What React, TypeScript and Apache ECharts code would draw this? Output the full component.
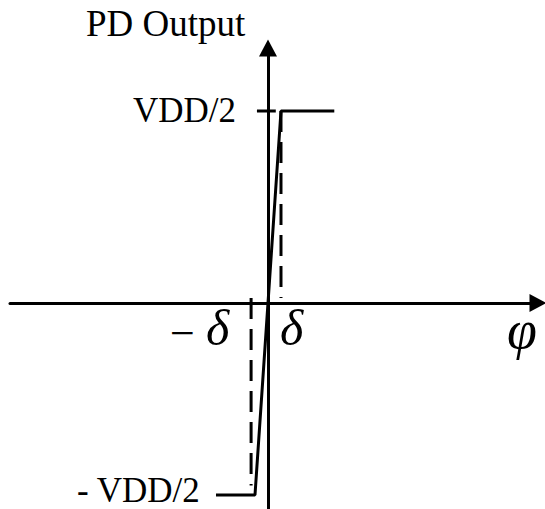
import React, { useEffect, useRef } from "react";
import * as echarts from "echarts";

// Phase-detector transfer characteristic, in units of δ (x) and VDD/2 (y)
const transferPhase = [-4.0, -1.0, 1.0, 5.1];
const transferOutput = [-1, -1, 1, 1];

// Dashed guides at +δ and −δ
const deltaPlus = 1.0;
const deltaMinus = -1.3;
const plusGuideOutput = [1, 0.026];
const minusGuideOutput = [0.026, -0.95];

// Short tick marking the VDD/2 level on the output axis
const levelTickPhase = [-0.85, 0.6];
const levelTickOutput = 1;

// Axis extents
const phaseRange = [-19.846, 20.77];
const outputRange = [-1.073, 1.328];

const serif = "'Liberation Serif', 'Times New Roman', serif";

export default function App() {
  const ref = useRef<HTMLDivElement>(null);

  useEffect(() => {
    if (!ref.current) return;
    const chart = echarts.init(ref.current, null, { renderer: "svg" });

    const axisCommon = {
      type: "value" as const,
      axisLabel: { show: false },
      axisTick: { show: false },
      splitLine: { show: false },
      axisLine: {
        show: true,
        onZero: true,
        symbol: ["none", "triangle"],
        symbolSize: [18, 17],
        lineStyle: { color: "#000", width: 3 },
      },
    };

    const dashed = { color: "#000", width: 3, type: [21, 10] };

    chart.setOption({
      animation: false,
      backgroundColor: "#fff",
      grid: { left: 10, right: 7, top: 48, bottom: 0 },
      xAxis: { ...axisCommon, min: phaseRange[0], max: phaseRange[1] },
      yAxis: { ...axisCommon, min: outputRange[0], max: outputRange[1] },
      series: [
        {
          type: "line",
          data: transferPhase.map((p, i) => [p, transferOutput[i]]),
          showSymbol: false,
          lineStyle: { color: "#000", width: 3 },
        },
        {
          type: "line",
          data: plusGuideOutput.map((v) => [deltaPlus, v]),
          showSymbol: false,
          lineStyle: dashed,
        },
        {
          type: "line",
          data: minusGuideOutput.map((v) => [deltaMinus, v]),
          showSymbol: false,
          lineStyle: dashed,
        },
        {
          type: "line",
          data: levelTickPhase.map((p) => [p, levelTickOutput]),
          showSymbol: false,
          lineStyle: { color: "#000", width: 3 },
        },
      ],
      graphic: [
        {
          type: "text",
          x: 86,
          y: 23,
          style: {
            text: "PD Output",
            font: `37px ${serif}`,
            fill: "#000",
            verticalAlign: "middle",
          },
        },
        {
          type: "text",
          x: 236,
          y: 110,
          style: {
            text: "VDD/2",
            font: `35px ${serif}`,
            fill: "#000",
            align: "right",
            verticalAlign: "middle",
          },
        },
        {
          type: "text",
          x: 77,
          y: 490,
          style: {
            text: "- VDD/2",
            font: `35px ${serif}`,
            fill: "#000",
            verticalAlign: "middle",
          },
        },
        {
          type: "text",
          x: 170,
          y: 333,
          style: {
            text: "−",
            font: `44px ${serif}`,
            fill: "#000",
            verticalAlign: "middle",
          },
        },
        {
          type: "text",
          x: 206,
          y: 328,
          style: {
            text: "δ",
            font: `italic 50px ${serif}`,
            fill: "#000",
            verticalAlign: "middle",
          },
        },
        {
          type: "text",
          x: 280,
          y: 328,
          style: {
            text: "δ",
            font: `italic 50px ${serif}`,
            fill: "#000",
            verticalAlign: "middle",
          },
        },
        {
          type: "text",
          x: 507,
          y: 330,
          style: {
            text: "φ",
            font: `italic 54px ${serif}`,
            fill: "#000",
            verticalAlign: "middle",
          },
        },
      ],
    });

    return () => chart.dispose();
  }, []);

  return (
    <div
      ref={ref}
      style={{
        position: "fixed",
        left: 0,
        top: 0,
        width: 545,
        height: 509,
        background: "#fff",
      }}
    />
  );
}
